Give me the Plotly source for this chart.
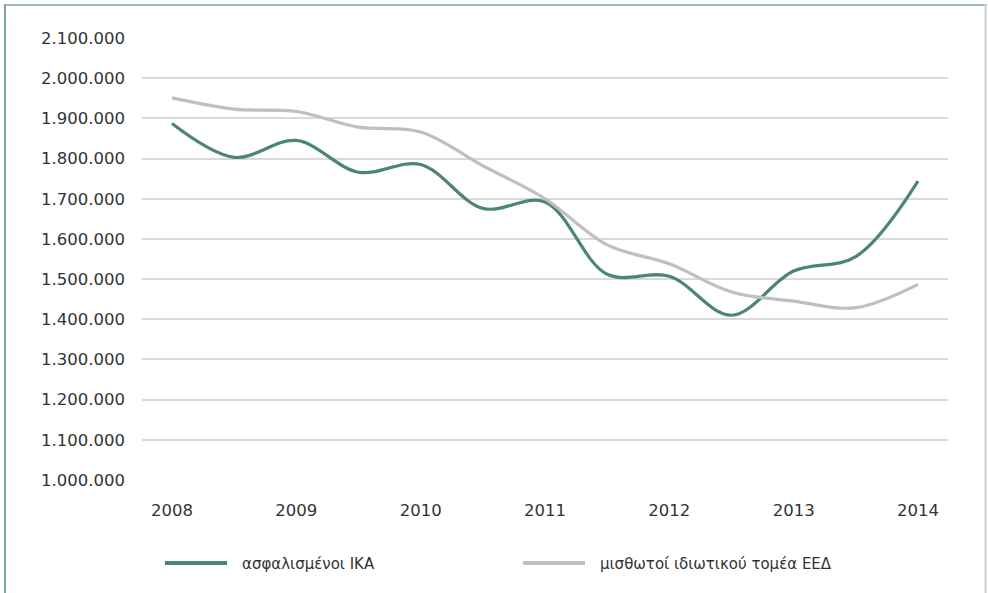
import plotly.graph_objects as go

# Semi-annual observation points (years)
periods = [2008, 2008.5, 2009, 2009.5, 2010, 2010.5, 2011, 2011.5, 2012, 2012.5, 2013, 2013.5, 2014]
year_ticks = [2008, 2009, 2010, 2011, 2012, 2013, 2014]
year_labels = ["2008", "2009", "2010", "2011", "2012", "2013", "2014"]

ika = [1887000, 1803000, 1845000, 1766000, 1785000, 1676000, 1692000,
       1512000, 1507000, 1410000, 1520000, 1556000, 1744000]
eed = [1951000, 1923000, 1917000, 1878000, 1866000, 1782000, 1700000,
       1585000, 1538000, 1468000, 1445000, 1429000, 1487000]

names = ["ασφαλισμένοι ΙΚΑ", "μισθωτοί ιδιωτικού τομέα ΕΕΔ"]
colors = ["#4b8577", "#bfbfc2"]

y_ticks = list(range(1000000, 2100001, 100000))
y_labels = [f"{v:,}".replace(",", ".") for v in y_ticks]

FONT = "'DejaVu Sans', sans-serif"
TEXT_COLOR = "#333333"

fig = go.Figure()
for series, name, color in zip([ika, eed], names, colors):
    fig.add_trace(go.Scatter(
        x=periods, y=series, name=name, mode="lines",
        line=dict(color=color, width=3.2, shape="spline", smoothing=1.0),
        hoverinfo="x+y+name", showlegend=False,
    ))

W, H = 988, 593
ml, mr, mt, mb = 142, 40, 38, 113
pw, ph = W - ml - mr, H - mt - mb

def px2paper_x(px):
    return (px - ml) / pw

def px2paper_y(py):
    return 1 - (py - mt) / ph

shapes = [
    dict(type="line", xref="paper", yref="paper",
         x0=px2paper_x(4), x1=px2paper_x(987), y0=px2paper_y(5), y1=px2paper_y(5),
         line=dict(color="#9dbdb5", width=2)),
    dict(type="line", xref="paper", yref="paper",
         x0=px2paper_x(5), x1=px2paper_x(5), y0=px2paper_y(4), y1=px2paper_y(600),
         line=dict(color="#7aa89d", width=2)),
    dict(type="line", xref="paper", yref="paper",
         x0=px2paper_x(985.5), x1=px2paper_x(985.5), y0=px2paper_y(4), y1=px2paper_y(600),
         line=dict(color="#c9d3d1", width=2)),
]

# Legend drawn as line samples plus labels below the plot
annotations = []
legend_starts = [165, 523]
for start, name, color in zip(legend_starts, names, colors):
    shapes.append(dict(type="line", xref="paper", yref="paper",
                       x0=px2paper_x(start), x1=px2paper_x(start + 62),
                       y0=px2paper_y(563), y1=px2paper_y(563),
                       line=dict(color=color, width=4)))
    annotations.append(dict(xref="paper", yref="paper",
                            x=px2paper_x(start + 75), y=px2paper_y(564),
                            xanchor="left", yanchor="middle", showarrow=False,
                            text=name, font=dict(family=FONT, size=15, color=TEXT_COLOR)))

fig.update_layout(
    width=W, height=H,
    margin=dict(l=ml, r=mr, t=mt, b=mb, autoexpand=False),
    paper_bgcolor="white", plot_bgcolor="white",
    font=dict(family=FONT, size=16, color=TEXT_COLOR),
    showlegend=False,
    xaxis=dict(
        range=[2008 - 30 / 124.3, 2014 + 30 / 124.3],
        tickmode="array", tickvals=year_ticks, ticktext=year_labels,
        showgrid=False, zeroline=False, showline=False,
        ticks="", ticklabelstandoff=18,
        tickfont=dict(family=FONT, size=16.5, color=TEXT_COLOR),
    ),
    yaxis=dict(
        range=[1000000, 2100000],
        tickmode="array", tickvals=y_ticks, ticktext=y_labels,
        showgrid=True, gridcolor="#d9d9d9", gridwidth=1.5,
        zeroline=False, showline=False,
        ticks="", ticklabelstandoff=16,
        tickfont=dict(family=FONT, size=16.5, color=TEXT_COLOR),
    ),
    shapes=shapes,
    annotations=annotations,
)

fig.write_html("out.html", config={"displayModeBar": False},
               post_script="document.body.style.margin='0';")
